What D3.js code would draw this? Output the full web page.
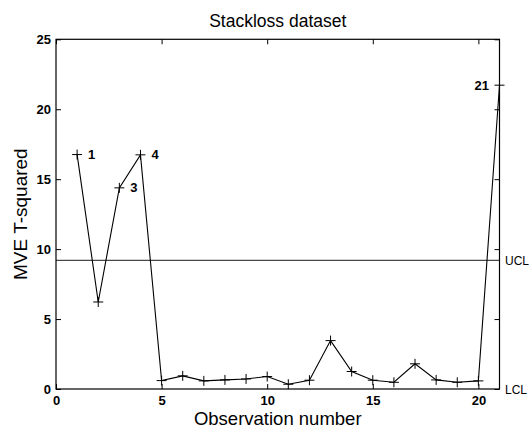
<!DOCTYPE html>
<html><head><meta charset="utf-8">
<script src="https://cdn.jsdelivr.net/npm/d3@7"></script>
<style>
body{margin:0;background:#fff;}
text{font-family:"Liberation Sans",Arial,Helvetica,sans-serif;fill:#000;}
</style></head>
<body><svg id="c" width="529" height="428"></svg>
<script>
const observations = [1,2,3,4,5,6,7,8,9,10,11,12,13,14,15,16,17,18,19,20,21];
const tSquared = [16.76,6.22,14.38,16.74,0.6,0.94,0.58,0.65,0.72,0.89,0.34,0.63,3.46,1.25,0.63,0.48,1.8,0.65,0.48,0.58,21.72];
const labeledPoints = [1,3,4,21];
const ucl = 9.2;
const lcl = 0;
const xTicks = [0,5,10,15,20];
const yTicks = [0,5,10,15,20,25];

const svg = d3.select("#c");
const m = {l:56, r:499.5, t:39.3, b:389};
const x = d3.scaleLinear().domain([0,21]).range([m.l,m.r]);
const y = d3.scaleLinear().domain([0,25]).range([m.b,m.t]);

const tl = 5;
const gB = svg.append("g").attr("transform",`translate(0,${m.b})`)
  .call(d3.axisBottom(x).tickValues(xTicks).tickSizeInner(-tl).tickSizeOuter(0).tickPadding(7));
const gT = svg.append("g").attr("transform",`translate(0,${m.t})`)
  .call(d3.axisTop(x).tickValues(xTicks).tickSizeInner(-tl).tickSizeOuter(0).tickFormat(""));
const gL = svg.append("g").attr("transform",`translate(${m.l},0)`)
  .call(d3.axisLeft(y).tickValues(yTicks).tickSizeInner(-tl).tickSizeOuter(0).tickPadding(5));
const gR = svg.append("g").attr("transform",`translate(${m.r},0)`)
  .call(d3.axisRight(y).tickValues(yTicks).tickSizeInner(-tl).tickSizeOuter(0).tickFormat(""));
[gB,gT,gL,gR].forEach(g=>{
  g.select(".domain").remove();
  g.selectAll("line").attr("stroke","#000").attr("stroke-width",1);
  g.selectAll("text").style("font-family","'Liberation Sans',Arial,sans-serif")
   .style("font-size","13px").style("font-weight","bold").attr("fill","#000");
});
gB.selectAll("text").attr("dy","0.71em");
svg.append("rect").attr("x",m.l).attr("y",m.t).attr("width",m.r-m.l).attr("height",m.b-m.t)
  .attr("fill","none").attr("stroke","#000").attr("stroke-width",1.2);

svg.append("line").attr("x1",m.l).attr("x2",m.r).attr("y1",y(ucl)).attr("y2",y(ucl))
  .attr("stroke","#000").attr("stroke-width",0.9);
svg.append("text").attr("x",m.r+5.5).attr("y",y(ucl)).attr("dy","0.35em")
  .style("font-size","12px").text("UCL");
svg.append("text").attr("x",m.r+5.5).attr("y",y(lcl)+1).attr("dy","0.35em")
  .style("font-size","12px").text("LCL");

const data = observations.map((o,i)=>({o, v:tSquared[i]}));
svg.append("path").datum(data)
  .attr("d", d3.line().x(d=>x(d.o)).y(d=>y(d.v)))
  .attr("fill","none").attr("stroke","#000").attr("stroke-width",1.1);

svg.append("g").selectAll("path").data(data).join("path")
  .attr("d", d=>{const cx=x(d.o), cy=y(d.v), s=5; return `M${cx-s},${cy}H${cx+s}M${cx},${cy-s}V${cy+s}`;})
  .attr("stroke","#000").attr("stroke-width",1);

svg.append("g").selectAll("text").data(data.filter(d=>labeledPoints.includes(d.o))).join("text")
  .attr("x", d=> d.o===21 ? x(d.o)-10.5 : x(d.o)+11)
  .attr("y", d=>y(d.v)).attr("dy","0.35em")
  .attr("text-anchor", d=> d.o===21 ? "end":"start")
  .style("font-size","13px").style("font-weight","bold").text(d=>d.o);

svg.append("text").attr("x",(m.l+m.r)/2).attr("y",27).attr("text-anchor","middle")
  .style("font-size","17.5px").text("Stackloss dataset");
svg.append("text").attr("x",(m.l+m.r)/2).attr("y",425).attr("text-anchor","middle")
  .style("font-size","18.5px").text("Observation number");
svg.append("text").attr("transform",`translate(26.5,${(m.t+m.b)/2}) rotate(-90)`).attr("text-anchor","middle")
  .style("font-size","19px").text("MVE T-squared");
</script></body></html>
